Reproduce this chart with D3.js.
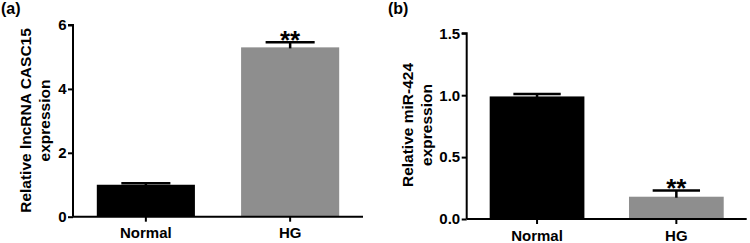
<!DOCTYPE html>
<html><head><meta charset="utf-8">
<script src="https://cdn.jsdelivr.net/npm/d3@7"></script>
<style>body{margin:0;background:#fff}svg{display:block}text{font-family:"Liberation Sans",Arial,sans-serif;font-weight:bold;fill:#000}</style>
</head><body><svg id="c" width="750" height="243"></svg>
<script>
const categories = ["Normal", "HG"];
const casc15Values = [1.0, 5.3];
const casc15Errors = [0.05, 0.16];
const casc15Ticks = [0, 2, 4, 6];
const mir424Values = [0.99, 0.18];
const mir424Errors = [0.02, 0.05];
const mir424Ticks = [0, 0.5, 1.0, 1.5];
const barColors = ["#000000", "#8e8e8e"];
const significance = ["", "**"];

const svg = d3.select("#c");

function panel(o) {
  const g = svg.append("g");
  const x = d3.scaleBand().domain(categories).range([o.x0, o.x1]).paddingInner(0.32).paddingOuter(0.165);
  const y = d3.scaleLinear().domain([0, o.max]).range([o.y0, o.y1]);
  g.selectAll("rect.bar").data(categories).enter().append("rect")
    .attr("x", d => x(d)).attr("width", x.bandwidth())
    .attr("y", (d, i) => y(o.values[i])).attr("height", (d, i) => y(0) - y(o.values[i]))
    .attr("fill", (d, i) => barColors[i]);
  categories.forEach((d, i) => {
    const cx = x(d) + x.bandwidth() / 2;
    const top = y(o.values[i] + o.errors[i]);
    const cw = x.bandwidth() * 0.25;
    g.append("line").attr("x1", cx).attr("x2", cx).attr("y1", y(o.values[i]) + 1).attr("y2", top)
      .attr("stroke", "#000").attr("stroke-width", 2.5);
    g.append("line").attr("x1", cx - cw).attr("x2", cx + cw).attr("y1", top).attr("y2", top)
      .attr("stroke", "#000").attr("stroke-width", 2.5);
    if (significance[i]) {
      g.append("text").attr("x", cx).attr("y", top + 6.5).attr("text-anchor", "middle")
        .style("font-size", "26px").text(significance[i]);
    }
  });
  const ya = g.append("g").attr("transform", `translate(${o.x0},0)`)
    .call(d3.axisLeft(y).tickValues(o.ticks).tickFormat(o.fmt).tickSize(5).tickPadding(1.5));
  const xa = g.append("g").attr("transform", `translate(0,${o.y0})`)
    .call(d3.axisBottom(x).tickSize(5).tickPadding(6));
  [ya, xa].forEach(a => {
    a.select(".domain").attr("stroke-width", 2).attr("stroke", "#000");
    a.selectAll(".tick line").attr("stroke-width", 2).attr("stroke", "#000");
    a.selectAll("text").style("font-size", "15px").style("font-family", "Liberation Sans, Arial, sans-serif").style("font-weight", "bold").attr("fill", "#000");
  });
  ya.select(".domain").attr("d", `M-5,${y(o.max)}H0V${o.y0}`);
  xa.select(".domain").attr("d", `M${o.x0},0H${o.x1}`);
  const t = g.append("text").attr("transform", `translate(${o.tx},${o.ty}) rotate(-90)`)
    .attr("text-anchor", "middle").style("font-size", "15.5px");
  o.title.forEach((line, k) => t.append("tspan").attr("x", 0).attr("dy", k === 0 ? 0 : 18.5).text(line));
  g.append("text").attr("x", o.lx).attr("y", 13.5).style("font-size", "16px").text(o.label);
}

panel({x0: 73, x1: 363, y0: 216.7, y1: 25, max: 6, values: casc15Values, errors: casc15Errors,
  ticks: casc15Ticks, fmt: d3.format("d"), title: ["Relative lncRNA CASC15", "expression"],
  tx: 31, ty: 120.5, label: "(a)", lx: 1});
panel({x0: 466.7, x1: 746.7, y0: 219, y1: 33.3, max: 1.5, values: mir424Values, errors: mir424Errors,
  ticks: mir424Ticks, fmt: d3.format(".1f"), title: ["Relative miR-424", "expression"],
  tx: 413, ty: 125, label: "(b)", lx: 388});
</script></body></html>
